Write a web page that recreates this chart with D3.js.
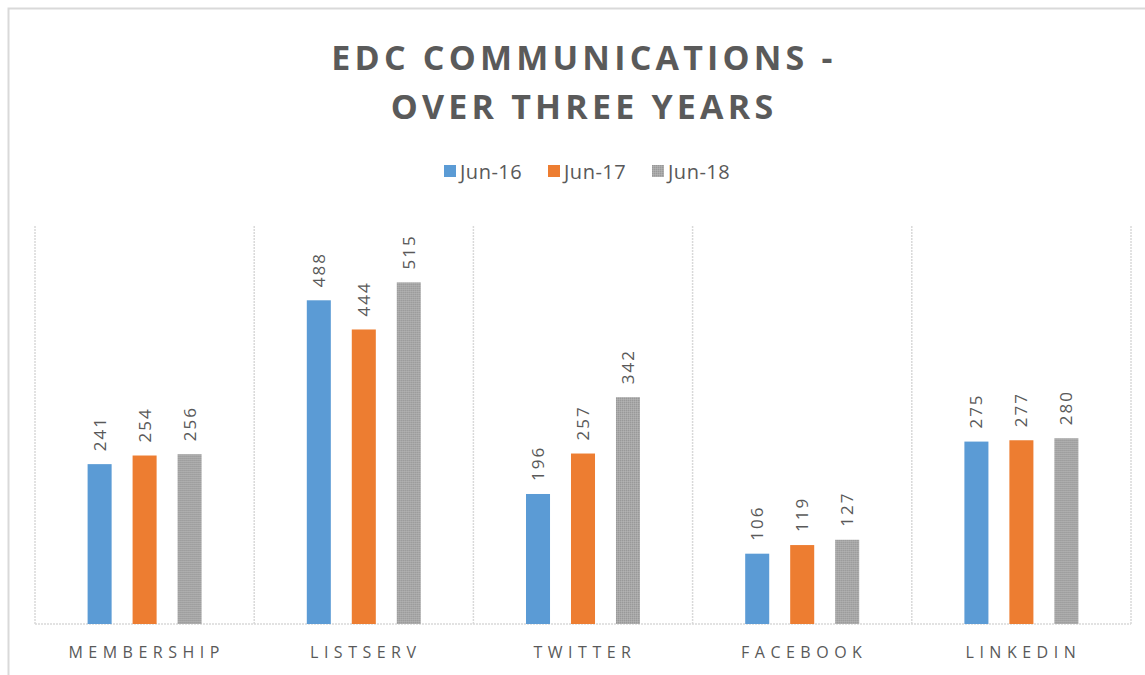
<!DOCTYPE html>
<html>
<head>
<meta charset="utf-8">
<script src="https://cdn.jsdelivr.net/npm/d3@7"></script>
<style>
  body { margin: 0; background: #fff; }
  svg { display: block; }
  text { font-family: "Open Sans", "Liberation Sans", sans-serif; fill: #595959; }
</style>
</head>
<body>
<div id="chart_area"></div>
<script>
// data
var categories = ["MEMBERSHIP", "LISTSERV", "TWITTER", "FACEBOOK", "LINKEDIN"];
var seriesNames = ["Jun-16", "Jun-17", "Jun-18"];
var jun16 = [241, 488, 196, 106, 275];
var jun17 = [254, 444, 257, 119, 277];
var jun18 = [256, 515, 342, 127, 280];
var seriesValues = [jun16, jun17, jun18];
var titleLines = ["EDC COMMUNICATIONS -", "OVER THREE YEARS"];

var width = 1145, height = 675;
var colors = ["#5b9bd5", "#ed7d31", "url(#grayPat)"];
var swatch = ["#5b9bd5", "#ed7d31", "#a5a5a5"];

var svg = d3.select("#chart_area")
    .append("svg")
    .attr("width", width)
    .attr("height", height);

// gray bars in the picture have a dotted texture
var pat = svg.append("defs").append("pattern")
    .attr("id", "grayPat")
    .attr("width", 2)
    .attr("height", 2)
    .attr("patternUnits", "userSpaceOnUse");
pat.append("rect").attr("width", 2).attr("height", 2).attr("fill", "#a8a8a8");
pat.append("rect").attr("width", 1).attr("height", 1).attr("fill", "#999999");
pat.append("rect").attr("x", 1).attr("y", 1).attr("width", 1).attr("height", 1).attr("fill", "#b2b2b2");

// outer frame
svg.append("rect")
    .attr("x", 8.5)
    .attr("y", 8.5)
    .attr("width", 1160)
    .attr("height", 700)
    .attr("fill", "none")
    .attr("stroke", "#d9d9d9")
    .attr("stroke-width", 2);

// title
svg.append("text")
    .attr("text-anchor", "middle")
    .style("font-size", "34px")
    .style("font-weight", "bold")
    .style("letter-spacing", "4.2px")
    .style("fill", "#5a5a5a")
    .selectAll("tspan")
    .data(titleLines)
    .enter().append("tspan")
    .attr("x", 584)
    .attr("y", function(d, i) { return 70 + i * 49; })
    .text(function(d) { return d; });

// legend
var legendX = [444, 548, 652];
var legend = svg.append("g").selectAll("g")
    .data(seriesNames)
    .enter().append("g")
    .attr("transform", function(d, i) { return "translate(" + legendX[i] + ",165)"; });
legend.append("rect")
    .attr("width", 12)
    .attr("height", 12)
    .attr("fill", function(d, i) { return i == 2 ? colors[2] : swatch[i]; });
legend.append("text")
    .attr("x", 16)
    .attr("y", 14)
    .style("font-size", "20px")
    .style("letter-spacing", "0.5px")
    .text(function(d) { return d; });

// scales
var x0 = d3.scaleBand()
    .domain(categories)
    .range([35, 1131])
    .padding(0);

var groupW = 114;
var x1 = d3.scaleBand()
    .domain(d3.range(seriesNames.length))
    .range([0, groupW])
    .paddingInner(0.466);

var y = d3.scaleLinear()
    .domain([0, 600])
    .range([624, 226]);

// vertical dashed grid lines between categories
var edges = categories.map(function(c) { return x0(c); }).concat([x0.range()[1]]);
svg.append("g").selectAll("line")
    .data(edges)
    .enter().append("line")
    .attr("x1", function(d) { return d; })
    .attr("x2", function(d) { return d; })
    .attr("y1", y(600))
    .attr("y2", y(0))
    .attr("stroke", "#d9d9d9")
    .attr("stroke-width", 1.5)
    .attr("stroke-dasharray", "2,1");

// baseline
svg.append("line")
    .attr("x1", x0.range()[0])
    .attr("x2", x0.range()[1])
    .attr("y1", y(0))
    .attr("y2", y(0))
    .attr("stroke", "#d9d9d9")
    .attr("stroke-width", 1.5)
    .attr("stroke-dasharray", "2,1");

// bars
var groups = svg.append("g").selectAll("g")
    .data(categories)
    .enter().append("g")
    .attr("transform", function(c) {
        return "translate(" + (x0(c) + (x0.bandwidth() - groupW) / 2) + ",0)";
    });

groups.selectAll("rect")
    .data(function(c, ci) { return seriesValues.map(function(s, si) { return { s: si, v: s[ci] }; }); })
    .enter().append("rect")
    .attr("x", function(d) { return x1(d.s); })
    .attr("y", function(d) { return y(d.v); })
    .attr("width", x1.bandwidth())
    .attr("height", function(d) { return y(0) - y(d.v); })
    .attr("fill", function(d) { return colors[d.s]; });

// value labels, rotated
groups.selectAll("text")
    .data(function(c, ci) { return seriesValues.map(function(s, si) { return { s: si, v: s[ci] }; }); })
    .enter().append("text")
    .attr("transform", function(d) {
        return "translate(" + (x1(d.s) + x1.bandwidth() / 2) + "," + (y(d.v) - 13) + ") rotate(-90)";
    })
    .attr("dy", "0.35em")
    .style("font-size", "17px")
    .style("letter-spacing", "2px")
    .text(function(d) { return d.v; });

// category labels
svg.append("g").selectAll("text")
    .data(categories)
    .enter().append("text")
    .attr("x", function(c) { return x0(c) + x0.bandwidth() / 2 + 2; })
    .attr("y", 658)
    .attr("text-anchor", "middle")
    .style("font-size", "16px")
    .style("letter-spacing", "5.5px")
    .text(function(c) { return c; });
</script>
</body>
</html>
